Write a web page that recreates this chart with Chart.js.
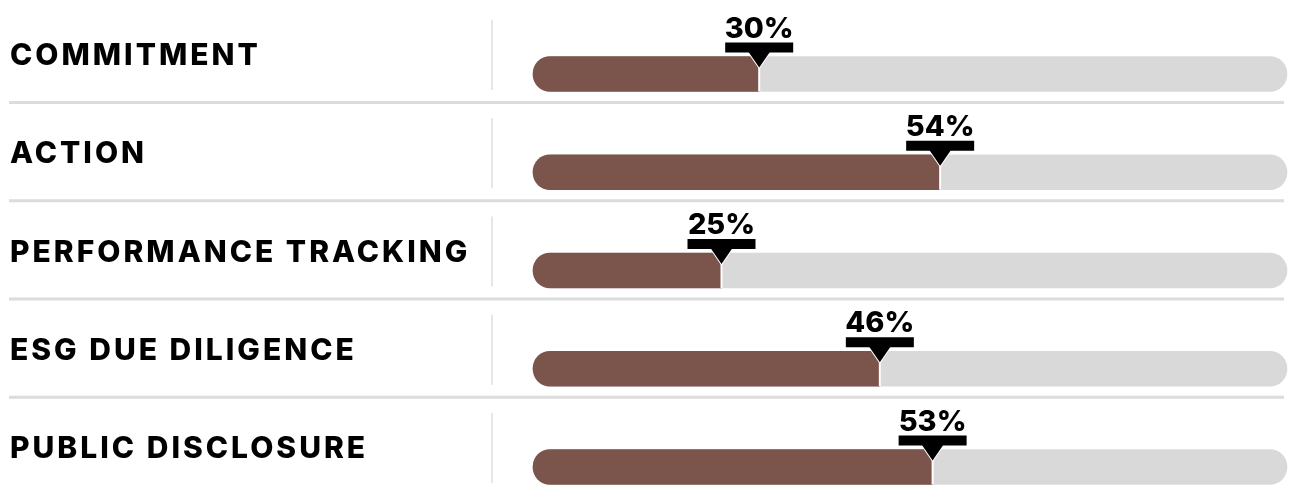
<!DOCTYPE html>
<html>
<head>
<meta charset="utf-8">
<script src="https://cdn.jsdelivr.net/npm/chart.js@4"></script>
<style>
  html, body { margin: 0; padding: 0; background: #fff; }
  canvas { display: block; }
</style>
</head>
<body>
<canvas id="myChart" width="1303" height="502"></canvas>
<script>
const categories = ["COMMITMENT", "ACTION", "PERFORMANCE TRACKING", "ESG DUE DILIGENCE", "PUBLIC DISCLOSURE"];
const values = [30, 54, 25, 46, 53];
const maxValue = 100;
const trackValues = categories.map(() => maxValue);

const brown = "#7b554b";
const grey = "#d9d9d9";
const fontFamily = "Inter, 'Noto Sans', sans-serif";

// labels, dividers and value markers drawn from the scales
const decorations = {
  id: "decorations",
  afterDatasetsDraw(chart) {
    const ctx = chart.ctx;
    const xs = chart.scales.x;
    const ys = chart.scales.y;
    ctx.save();
    for (let i = 0; i < categories.length; i++) {
      const y = ys.getPixelForValue(i);

      // row label
      ctx.fillStyle = "#000";
      ctx.font = "800 30px " + fontFamily;
      ctx.letterSpacing = "3px";
      ctx.textAlign = "left";
      ctx.textBaseline = "middle";
      ctx.fillText(categories[i], 10, y - 18);

      // vertical divider
      ctx.fillStyle = "#e6e6e6";
      ctx.fillRect(491, y - 54, 2, 70);

      // horizontal separator
      if (i < categories.length - 1) {
        ctx.fillStyle = "#dcdcdc";
        ctx.fillRect(9, y + 27, 1275, 3);
      }

      // value marker
      const x = xs.getPixelForValue(values[i]);
      const top = y - 17.5;
      ctx.fillStyle = "#fff";
      ctx.fillRect(x - 1, top, 2, 35);

      ctx.beginPath();
      ctx.moveTo(x - 11, top - 5);
      ctx.lineTo(x + 11, top - 5);
      ctx.lineTo(x, top + 11);
      ctx.closePath();
      ctx.lineWidth = 2;
      ctx.strokeStyle = "#fff";
      ctx.stroke();
      ctx.fillStyle = "#000";
      ctx.fill();

      ctx.fillRect(x - 34, top - 14, 68, 10);

      ctx.font = "800 29px " + fontFamily;
      ctx.letterSpacing = "0px";
      ctx.textAlign = "center";
      ctx.textBaseline = "alphabetic";
      ctx.fillText(values[i] + "%", x, top - 19);
    }
    ctx.restore();
  }
};

const data = {
  labels: categories,
  datasets: [
    {
      label: "Value",
      data: values,
      backgroundColor: brown,
      borderSkipped: false,
      borderRadius: { topLeft: 17.5, bottomLeft: 17.5, topRight: 0, bottomRight: 0 },
      barThickness: 35,
      grouped: false,
      clip: false,
    },
    {
      label: "Track",
      data: trackValues,
      backgroundColor: grey,
      borderSkipped: false,
      borderRadius: 17.5,
      barThickness: 35,
      grouped: false,
      clip: false,
    },
  ],
};

const config = {
  type: "bar",
  data: data,
  options: {
    indexAxis: "y",
    responsive: false,
    animation: false,
    devicePixelRatio: 1,
    layout: { padding: { left: 533, right: 16, top: 74, bottom: 35 } },
    scales: {
      x: { display: false, min: 0, max: maxValue },
      y: { display: false, offset: false },
    },
    plugins: {
      legend: { display: false },
      tooltip: { enabled: false },
    },
  },
  plugins: [decorations],
};
const myChart = new Chart(document.getElementById("myChart"), config);
</script>
</body>
</html>
